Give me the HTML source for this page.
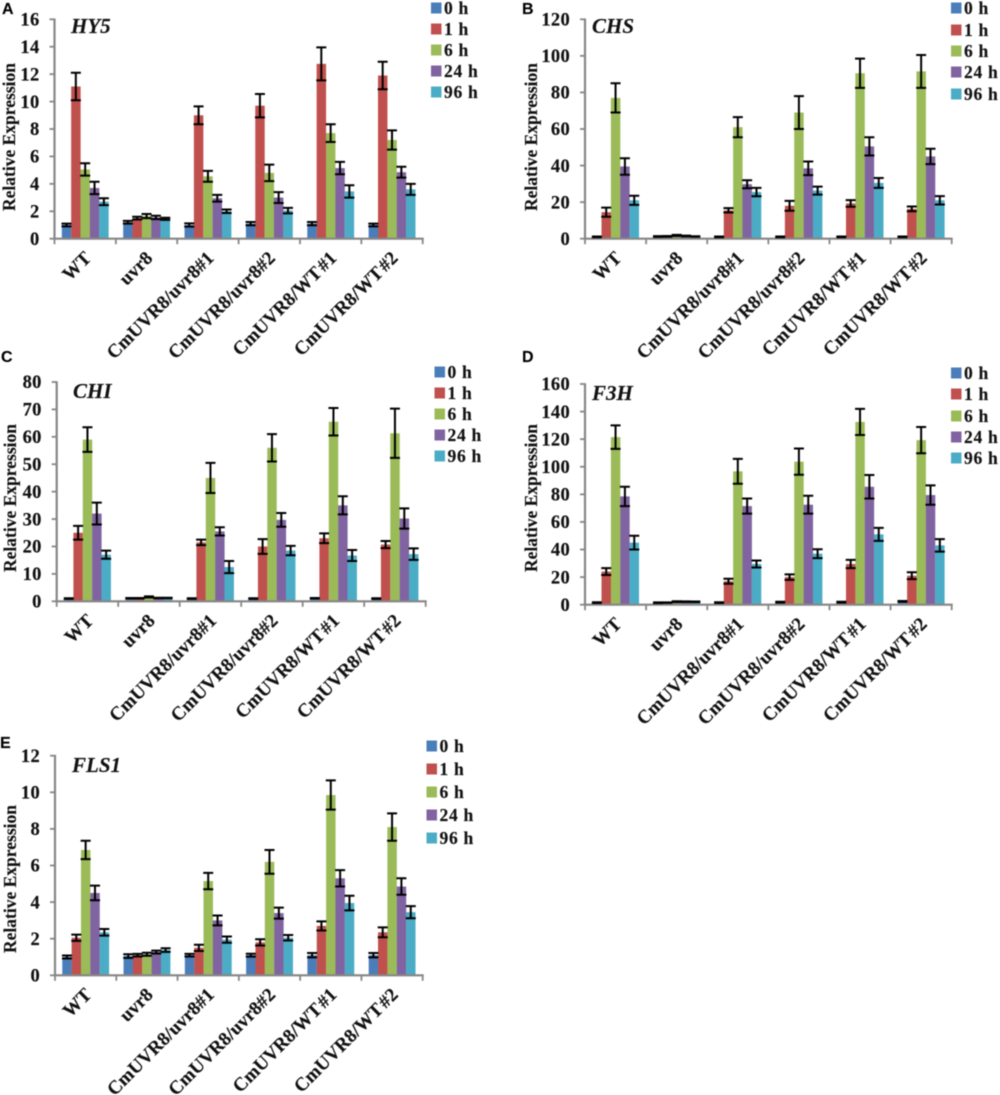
<!DOCTYPE html>
<html lang="en">
<head>
<meta charset="utf-8">
<title>Relative expression of HY5, CHS, CHI, F3H and FLS1</title>
<style>
html,body{margin:0;padding:0;background:#fff;}
#figure{display:block;width:1000px;height:1095px;filter:blur(0.45px);}
text{font-family:"Liberation Serif",serif;font-weight:bold;fill:#111;stroke:#111;stroke-width:0.15px;}
.letter{font-family:"Liberation Sans",sans-serif;font-size:16px;fill:#000;}
</style>
</head>
<body>
<svg id="figure" width="1000" height="1095" viewBox="0 0 1000 1095" xmlns="http://www.w3.org/2000/svg"></svg>
<script>
const categories = ['WT','uvr8','CmUVR8/uvr8#1','CmUVR8/uvr8#2','CmUVR8/WT #1','CmUVR8/WT #2'];
const seriesLabels = ['0 h','1 h','6 h','24 h','96 h'];
const seriesColors = ['#4a7ebb','#c0504d','#9bbb59','#8064a2','#4bacc6'];

const hy5Ticks = [0,2,4,6,8,10,12,14,16];
const hy5Mean0h = [1.0,1.2,1.0,1.1,1.1,1.0];
const hy5Mean1h = [11.1,1.5,9.0,9.7,12.75,11.9];
const hy5Mean6h = [5.05,1.65,4.55,4.8,7.7,7.2];
const hy5Mean24h = [3.7,1.55,2.95,3.0,5.15,4.85];
const hy5Mean96h = [2.7,1.45,2.0,2.05,3.45,3.6];
const hy5Err0h = [0.1,0.1,0.12,0.12,0.12,0.1];
const hy5Err1h = [1.0,0.1,0.65,0.85,1.2,1.0];
const hy5Err6h = [0.45,0.15,0.4,0.6,0.65,0.7];
const hy5Err24h = [0.45,0.12,0.25,0.4,0.45,0.4];
const hy5Err96h = [0.25,0.08,0.13,0.2,0.45,0.4];

const chsTicks = [0,20,40,60,80,100,120];
const chsMean0h = [1,1.2,1,1,1,1];
const chsMean1h = [14.5,1.3,15.5,18,19.3,16.3];
const chsMean6h = [77,1.8,61,69,90.5,91.5];
const chsMean24h = [39.5,1.5,29.8,38.5,50.5,45];
const chsMean96h = [21,1.2,25.5,26.3,30.5,21];
const chsErr0h = [0.2,0.2,0.2,0.2,0.2,0.2];
const chsErr1h = [2.5,0.2,1.2,2.7,1.8,1.3];
const chsErr6h = [8,0.3,5.5,9,8,9];
const chsErr24h = [4.5,0.2,2.2,3.7,5,4.2];
const chsErr96h = [2.5,0.15,2.3,2.2,2.7,2.3];

const chiTicks = [0,10,20,30,40,50,60,70,80];
const chiMean0h = [1,1.1,1,1,1.1,1];
const chiMean1h = [25,1.1,21.5,20,23,20.7];
const chiMean6h = [59,1.6,45,56,65.5,61.3];
const chiMean24h = [32,1.2,25.5,29.7,35,30.2];
const chiMean96h = [17,1.2,12.5,18.5,16.7,17.2];
const chiErr0h = [0.1,0.1,0.1,0.1,0.1,0.1];
const chiErr1h = [2.5,0.1,1,2.7,1.8,1.3];
const chiErr6h = [4.5,0.2,5.5,5,5,9];
const chiErr24h = [4,0.1,1.5,2.5,3.3,3.7];
const chiErr96h = [1.5,0.1,2.2,1.7,2,2.1];

const f3hTicks = [0,20,40,60,80,100,120,140,160];
const f3hMean0h = [1.5,1.4,1.5,1.8,1.8,2.4];
const f3hMean1h = [24,1.5,17,20,29.5,21];
const f3hMean6h = [121.5,2.2,96.7,103.7,132.5,119.3];
const f3hMean24h = [78.5,2.2,71.5,72.5,85.5,79.5];
const f3hMean96h = [45,2.1,29.5,37,51,43];
const f3hErr0h = [0.3,0.3,0.3,0.3,0.3,0.3];
const f3hErr1h = [2.5,0.2,1.8,2,3,2.5];
const f3hErr6h = [8.5,0.3,9,9.5,9.5,9.5];
const f3hErr24h = [7,0.2,5.5,6.5,8.5,7];
const f3hErr96h = [5,0.2,2.5,3.2,4.7,4.5];

const fls1Ticks = [0,2,4,6,8,10,12];
const fls1Mean0h = [1,1.05,1.1,1.1,1.1,1.1];
const fls1Mean1h = [2.05,1.1,1.5,1.8,2.7,2.35];
const fls1Mean6h = [6.85,1.15,5.15,6.2,9.85,8.1];
const fls1Mean24h = [4.5,1.27,3.0,3.4,5.3,4.85];
const fls1Mean96h = [2.35,1.38,1.95,2.05,3.95,3.45];
const fls1Err0h = [0.08,0.1,0.07,0.08,0.12,0.12];
const fls1Err1h = [0.17,0.07,0.17,0.17,0.25,0.27];
const fls1Err6h = [0.5,0.08,0.45,0.65,0.8,0.75];
const fls1Err24h = [0.4,0.08,0.27,0.3,0.45,0.45];
const fls1Err96h = [0.18,0.1,0.17,0.15,0.4,0.33];

const panels = [
  {id:'hy5',letter:'A',letterX:2,letterY:14,title:'HY5',titleX:71,titleY:33,
   means:[hy5Mean0h,hy5Mean1h,hy5Mean6h,hy5Mean24h,hy5Mean96h],
   errs:[hy5Err0h,hy5Err1h,hy5Err6h,hy5Err24h,hy5Err96h],ticks:hy5Ticks,
   left:54.5,right:422.7,top:19.3,base:238.7,ytX:9,ytY:137,
   legX:431,legY:[8,29,50,71,92]},
  {id:'chs',letter:'B',letterX:522,letterY:14,title:'CHS',titleX:592,titleY:33,
   means:[chsMean0h,chsMean1h,chsMean6h,chsMean24h,chsMean96h],
   errs:[chsErr0h,chsErr1h,chsErr6h,chsErr24h,chsErr96h],ticks:chsTicks,
   left:585,right:951.7,top:19.3,base:238.7,ytX:531,ytY:137,
   legX:951,legY:[8,30,51,72,94]},
  {id:'chi',letter:'C',letterX:1,letterY:362,title:'CHI',titleX:73,titleY:398,
   means:[chiMean0h,chiMean1h,chiMean6h,chiMean24h,chiMean96h],
   errs:[chiErr0h,chiErr1h,chiErr6h,chiErr24h,chiErr96h],ticks:chiTicks,
   left:56.7,right:425.7,top:382,base:601.3,ytX:10,ytY:498,
   legX:434.5,legY:[372,393,414,435,456]},
  {id:'f3h',letter:'D',letterX:522,letterY:362,title:'F3H',titleX:592,titleY:400,
   means:[f3hMean0h,f3hMean1h,f3hMean6h,f3hMean24h,f3hMean96h],
   errs:[f3hErr0h,f3hErr1h,f3hErr6h,f3hErr24h,f3hErr96h],ticks:f3hTicks,
   left:585,right:951.7,top:384,base:604.7,ytX:531,ytY:498,
   legX:951,legY:[373,394,416,437,458]},
  {id:'fls1',letter:'E',letterX:0,letterY:748,title:'FLS1',titleX:72,titleY:772,
   means:[fls1Mean0h,fls1Mean1h,fls1Mean6h,fls1Mean24h,fls1Mean96h],
   errs:[fls1Err0h,fls1Err1h,fls1Err6h,fls1Err24h,fls1Err96h],ticks:fls1Ticks,
   left:55,right:422.7,top:755.7,base:975.3,ytX:10,ytY:879,
   legX:426.5,legY:[746,769,792,815,838]}
];

const svgNS = 'http://www.w3.org/2000/svg';
const root = document.getElementById('figure');
const AXIS_COLOR = '#868686';

function make(parent, tag, attrs, content) {
  const el = document.createElementNS(svgNS, tag);
  Object.keys(attrs).forEach(function (k) { el.setAttribute(k, attrs[k]); });
  if (content !== undefined) el.textContent = content;
  parent.appendChild(el);
  return el;
}

function drawPanel(p) {
  const maxTick = p.ticks[p.ticks.length - 1];
  const yScale = function (v) { return p.base - (p.base - p.top) * v / maxTick; };
  const groupStep = (p.right - p.left) / categories.length;
  const xGroup = function (i) { return p.left + groupStep * i; };
  const barW = 9.35;
  const xBar = function (g, s) { return xGroup(g) + (groupStep - barW * seriesLabels.length) / 2 + s * barW; };

  const g = make(root, 'g', {});
  
  

  const letter = make(g, 'text', {x:p.letterX, y:p.letterY, class:'letter'}, p.letter);
  
  

  p.means.forEach(function (series, s) {
    series.forEach(function (v, c) {
      const bar = make(g, 'rect', {x:xBar(c, s), y:yScale(v), width:barW + 0.1, height:p.base - yScale(v), fill:seriesColors[s]});
      
      
    });
  });

  const yAxis = make(g, 'line', {x1:p.left, x2:p.left, y1:p.top - 0.8, y2:p.base + 1, stroke:AXIS_COLOR, 'stroke-width':2.2});
  
  

  const xAxis = make(g, 'line', {x1:p.left - 1, x2:p.right + 1, y1:p.base, y2:p.base, stroke:AXIS_COLOR, 'stroke-width':2.2});
  
  

  p.ticks.forEach(function (t) {
    const tick = make(g, 'line', {x1:p.left - 5, x2:p.left, y1:yScale(t), y2:yScale(t), stroke:AXIS_COLOR, 'stroke-width':1.8});
    
    
    const label = make(g, 'text', {x:p.left - 15, y:yScale(t) + 6.2, 'text-anchor':'end', 'font-size':18.5, 'letter-spacing':'0.3'}, String(t));
    
    
  });

  for (let i = 0; i <= categories.length; i++) {
    const tick = make(g, 'line', {x1:xGroup(i), x2:xGroup(i), y1:p.base, y2:p.base + 5.5, stroke:AXIS_COLOR, 'stroke-width':1.8});
    
    
  }

  p.means.forEach(function (series, s) {
    series.forEach(function (v, c) {
      const cx = xBar(c, s) + barW / 2;
      const hi = yScale(v + p.errs[s][c]);
      const lo = yScale(v - p.errs[s][c]);
      const eb = make(g, 'path', {d:'M' + (cx - 5) + ' ' + hi + 'H' + (cx + 5) + 'M' + cx + ' ' + hi + 'V' + lo + 'M' + (cx - 5) + ' ' + lo + 'H' + (cx + 5), fill:'none', stroke:'#000', 'stroke-width':2});
      
      
    });
  });

  categories.forEach(function (name, c) {
    const px = xGroup(c) + groupStep / 2 + 7;
    const py = p.base + 20.5;
    const label = make(g, 'text', {x:px, y:py, 'text-anchor':'end', 'font-size':19, 'word-spacing':'-2.5', transform:'rotate(-45 ' + px + ' ' + py + ')'}, name);
    
    
  });

  const yTitle = make(g, 'text', {x:p.ytX + 6, y:p.ytY, 'text-anchor':'middle', 'font-size':17.5, transform:'rotate(-90 ' + (p.ytX + 6) + ' ' + p.ytY + ')'}, 'Relative Expression');
  
  

  const title = make(g, 'text', {x:p.titleX, y:p.titleY, 'font-size':21, 'font-style':'italic'}, p.title);
  
  

  seriesLabels.forEach(function (name, s) {
    const swatch = make(g, 'rect', {x:p.legX, y:p.legY[s] - 5.5, width:10.5, height:11, fill:seriesColors[s]});
    
    
    const text = make(g, 'text', {x:p.legX + 13, y:p.legY[s] + 6, 'font-size':17.5, 'letter-spacing':'0.7'}, name);
    
    
  });
}

panels.forEach(drawPanel);
</script>
</body>
</html>
